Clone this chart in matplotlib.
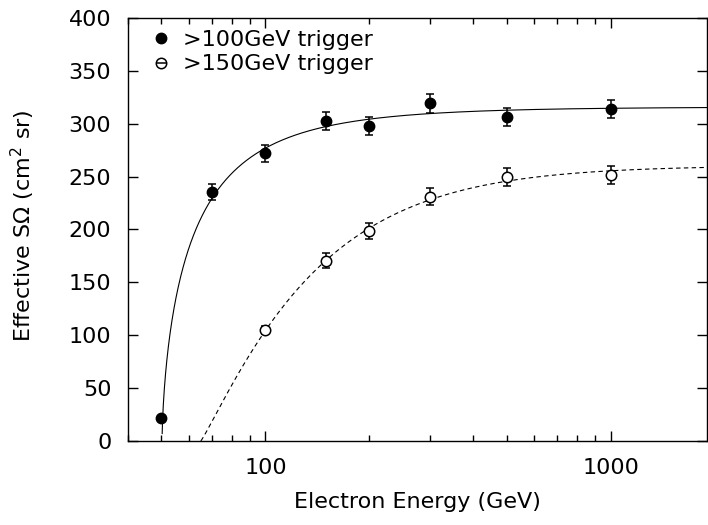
import numpy as np
import matplotlib
matplotlib.use("Agg")
import matplotlib.pyplot as plt
from matplotlib.lines import Line2D
from matplotlib.legend_handler import HandlerTuple

# ---- data ----
e_hi = [50, 70, 100, 150, 200, 300, 500, 1000]
y_hi = [21.7, 235.2, 272, 302.6, 298.2, 319.3, 306.7, 313.7]
err_hi = [2, 7.5, 8, 8.5, 8.5, 9, 8.5, 8.5]

e_lo = [100, 150, 200, 300, 500, 1000]
y_lo = [105, 170.5, 198.6, 231, 250, 251.5]
err_lo = [4, 7, 7.5, 8, 8.5, 8.5]

# fitted curve parameters (A, E0, c, p): y = A*(1-exp(-(ln(E/E0)/c)^p))
fit_hi = [315.92, 50.20, 0.2243, 0.6579]
fit_lo = [260.42, 64.98, 0.7875, 1.1086]

labels = ['>100GeV trigger', '>150GeV trigger']
xtick_vals = [100, 1000]
xtick_labels = ['100', '1000']


def model(E, A, E0, c, p):
    x = np.log(E / E0)
    y = A * (1 - np.exp(-(np.clip(x, 0, None) / c) ** p))
    y[E < E0] = np.nan
    return y


plt.rcParams['font.family'] = ['DejaVu Sans']
plt.rcParams['font.size'] = 16
plt.rcParams['mathtext.fontset'] = 'dejavusans'

fig = plt.figure(figsize=(7.08, 5.25), dpi=100)
ax = fig.add_axes([128/708, 1-441/525, (707-128)/708, (441-18)/525])
ax.set_xscale('log')
ax.set_xlim(40, 1900)
ax.set_ylim(0, 400)

xx = np.logspace(np.log10(40), np.log10(1900), 4000)
ax.plot(xx, model(xx, *fit_hi), color='black', lw=0.8)
ax.plot(xx, model(xx, *fit_lo), color='black', lw=0.8, ls=(0, (4, 3)))

ax.errorbar(e_hi, y_hi, yerr=err_hi, fmt='o', color='black', ms=7.5, mfc='black',
            capsize=2.6, elinewidth=1.1, capthick=1.1, zorder=3)
ax.errorbar(e_lo, y_lo, yerr=err_lo, fmt='o', color='black', ms=7.5, mfc='white',
            mew=1.1, capsize=2.6, elinewidth=1.1, capthick=1.1, zorder=3)

ax.set_yticks(np.arange(0, 401, 50))
ax.set_xticks(xtick_vals)
ax.set_xticklabels(xtick_labels)
ax.tick_params(which='both', direction='in', top=True, right=True, width=1)
ax.tick_params(which='major', length=7)
ax.tick_params(which='minor', length=4)
ax.tick_params(axis='x', which='both', pad=12)
ax.tick_params(axis='y', which='both', pad=12)
for s in ax.spines.values():
    s.set_linewidth(1.0)

ax.set_xlabel('Electron Energy (GeV)', labelpad=10.5)
ax.set_ylabel('Effective S$\\Omega$ (cm$^2$ sr)')
ax.yaxis.set_label_coords(-0.157, 0.509)

h1 = Line2D([], [], marker='o', color='black', ls='none', ms=7.5, mfc='black')
h2a = Line2D([], [], marker='o', color='black', ls='none', ms=7.5, mfc='white', mew=1.1)
h2b = Line2D([], [], marker='_', color='black', ls='none', ms=7, mew=1.1)
ax.legend([h1, (h2a, h2b)], labels,
          handler_map={tuple: HandlerTuple(ndivide=1, pad=0)},
          loc='upper left', bbox_to_anchor=(0.0225, 0.993), frameon=False,
          handlelength=1.0, handletextpad=0.5, labelspacing=0.2, borderaxespad=0)

fig.savefig("out.png")
